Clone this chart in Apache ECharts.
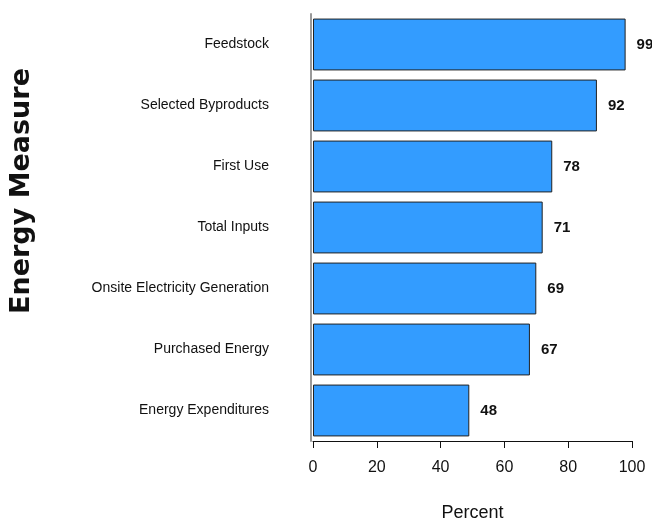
<!DOCTYPE html>
<html>
<head>
<meta charset="utf-8">
<script src="https://cdn.jsdelivr.net/npm/echarts@6/dist/echarts.min.js"></script>
<style>
  html, body { margin: 0; padding: 0; background: #fff; }
  #chart { width: 652px; height: 527px; }
</style>
</head>
<body>
<div id="chart"></div>
<script>
// top to bottom, as in the picture
var categories = ['Feedstock', 'Selected Byproducts', 'First Use', 'Total Inputs',
  'Onsite Electricity Generation', 'Purchased Energy', 'Energy Expenditures']
// bar lengths as drawn
var barValues = [98, 89, 75, 72, 70, 68, 49]
// numbers printed next to the bars
var barLabels = ['99', '92', '78', '71', '69', '67', '48']
var xTicks = [0, 20, 40, 60, 80, 100]

var font = '"Liberation Sans Narrow", "Liberation Sans", Arial, sans-serif'

var chart = echarts.init(document.getElementById('chart'))
chart.setOption({
  animation: false,
  grid: { left: 313, right: 20, top: 14, bottom: 77 },
  xAxis: {
    type: 'value',
    min: xTicks[0],
    max: xTicks[xTicks.length - 1],
    interval: 20,
    name: 'Percent',
    nameLocation: 'middle',
    nameGap: 63,
    nameTextStyle: { fontFamily: font, fontSize: 18, color: '#111' },
    axisLine: { show: true, lineStyle: { color: '#111', width: 1 } },
    axisTick: { show: true, length: 7, lineStyle: { color: '#111' } },
    axisLabel: { fontFamily: font, fontSize: 16, color: '#111', margin: 19 },
    splitLine: { show: false }
  },
  yAxis: {
    type: 'category',
    inverse: true,
    data: categories,
    offset: 2,
    axisLine: { show: true, onZero: false, lineStyle: { color: '#999', width: 2 } },
    axisTick: { show: false },
    axisLabel: { fontFamily: font, fontSize: 14, color: '#111', margin: 42, padding: [7, 0, 0, 0] },
    splitLine: { show: false }
  },
  graphic: [{
    type: 'text',
    rotation: Math.PI / 2,
    x: 22,
    y: 191,
    style: {
      text: 'Energy Measure',
      font: 'bold 27px "DejaVu Sans", sans-serif',
      fill: '#111',
      align: 'center',
      verticalAlign: 'middle'
    }
  }],
  series: [{
    type: 'bar',
    data: barValues,
    barCategoryGap: '15%',
    itemStyle: { color: '#339CFF', borderColor: '#222', borderWidth: 1 },
    label: {
      show: true,
      position: 'right',
      distance: 11,
      fontFamily: font,
      fontSize: 15,
      fontWeight: 'bold',
      color: '#111',
      formatter: function (p) { return barLabels[p.dataIndex] }
    }
  }]
})
</script>
</body>
</html>
